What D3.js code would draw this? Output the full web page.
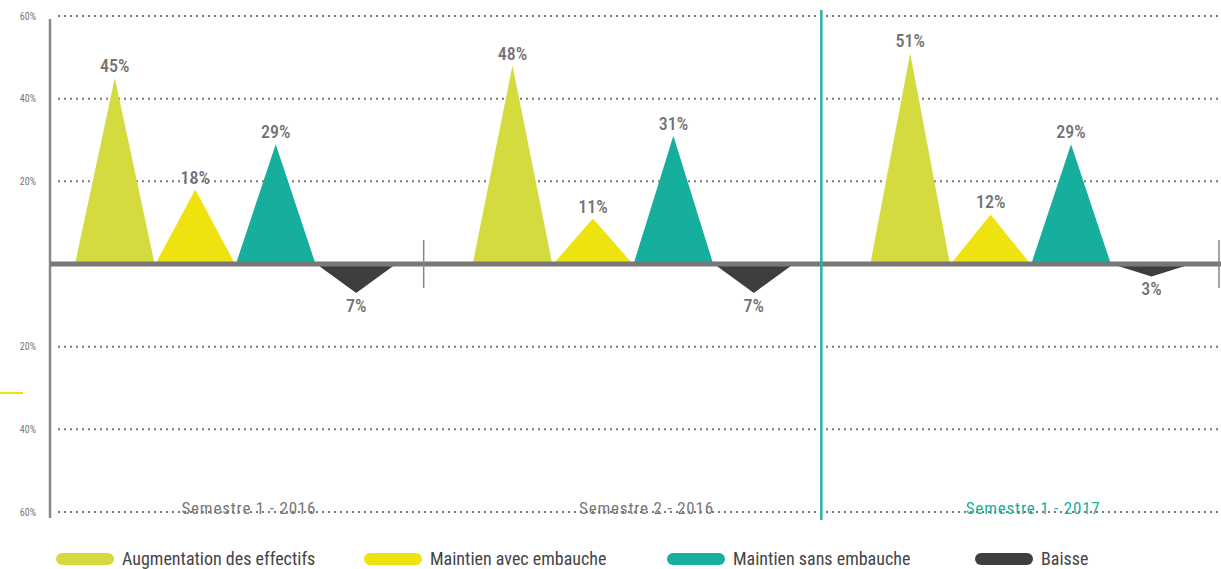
<!DOCTYPE html>
<html>
<head>
<meta charset="utf-8">
<script src="https://cdn.jsdelivr.net/npm/d3@7"></script>
<style>
  html, body { margin: 0; padding: 0; background: #fff; }
  svg { display: block; font-family: "Roboto Condensed", Roboto, "Liberation Sans Narrow", sans-serif; }
</style>
</head>
<body>
<svg id="chart" width="1221" height="569"></svg>
<script>
// ---- data ----
const groups = ["Semestre 1 - 2016", "Semestre 2 - 2016", "Semestre 1 - 2017"];
const seriesNames = ["Augmentation des effectifs", "Maintien avec embauche", "Maintien sans embauche", "Baisse"];
const augmentation = [45, 48, 51];
const maintienAvec = [18, 11, 12];
const maintienSans = [29, 31, 29];
const baisse = [-7, -7, -3];
const yTicks = [60, 40, 20, -20, -40, -60];
const colors = ["#d3db3f", "#efe30f", "#16ae9d", "#3e3e3e"];

const seriesValues = [augmentation, maintienAvec, maintienSans, baisse];

const svg = d3.select("#chart");
const W = 1221, H = 569;

const y = d3.scaleLinear().domain([-60, 60]).range([512, 16]);
const x0 = d3.scaleBand().domain(groups).range([26, 1219]);
const x1 = d3.scaleBand().domain(seriesNames).range([49, 370]).paddingInner(0.01);

// gridlines
svg.append("g").selectAll("line").data(yTicks).join("line")
  .attr("x1", 58).attr("x2", W)
  .attr("y1", d => y(d)).attr("y2", d => y(d))
  .attr("stroke", "#7a7a7a").attr("stroke-width", 2)
  .attr("stroke-dasharray", "2,4");

// y-axis labels
svg.append("g").selectAll("text").data(yTicks).join("text")
  .attr("x", 36).attr("y", d => y(d) + 3.5)
  .attr("text-anchor", "end")
  .attr("font-size", 10).attr("fill", "#777")
  .text(d => Math.abs(d) + "%");

// y-axis line
svg.append("line").attr("x1", 50).attr("x2", 50).attr("y1", 19).attr("y2", 518)
  .attr("stroke", "#888").attr("stroke-width", 2.5);

// small yellow marker at left
svg.append("line").attr("x1", 0).attr("x2", 23).attr("y1", 393).attr("y2", 393)
  .attr("stroke", colors[1]).attr("stroke-width", 2);

// triangles
const tri = [];
groups.forEach((g, gi) => {
  seriesNames.forEach((s, si) => {
    tri.push({ g, s, si, v: seriesValues[si][gi] });
  });
});

svg.append("g").selectAll("path").data(tri).join("path")
  .attr("d", d => {
    const xl = x0(d.g) + x1(d.s);
    const xr = xl + x1.bandwidth();
    const xm = (xl + xr) / 2;
    return `M${xl},${y(0)}L${xm},${y(d.v)}L${xr},${y(0)}Z`;
  })
  .attr("fill", d => colors[d.si]);

// value labels
svg.append("g").selectAll("text").data(tri).join("text")
  .attr("x", d => x0(d.g) + x1(d.s) + x1.bandwidth() / 2)
  .attr("y", d => d.v >= 0 ? y(d.v) - 6 : y(d.v) + 19)
  .attr("text-anchor", "middle")
  .attr("font-size", 18).attr("font-weight", 500).attr("fill", "#727272")
  .text(d => Math.abs(d.v) + "%");

// zero baseline
svg.append("line").attr("x1", 50).attr("x2", W).attr("y1", y(0)).attr("y2", y(0))
  .attr("stroke", "#787878").attr("stroke-width", 5);

// group separators
[x0(groups[1]), x0.range()[1]].forEach(xx => {
  svg.append("line").attr("x1", xx).attr("x2", xx).attr("y1", 240).attr("y2", 288)
    .attr("stroke", "#888").attr("stroke-width", 1.5);
});

// highlighted teal vertical line
svg.append("line").attr("x1", x0(groups[2])).attr("x2", x0(groups[2]))
  .attr("y1", 10).attr("y2", 520)
  .attr("stroke", "#2ab3a3").attr("stroke-width", 2.5);

// semester labels
const labelOffsets = [24, 24, 13];
svg.append("g").selectAll("text").data(groups).join("text")
  .attr("x", (d, i) => x0(d) + x0.bandwidth() / 2 + labelOffsets[i])
  .attr("y", 514)
  .attr("text-anchor", "middle")
  .attr("font-size", 17)
  .attr("letter-spacing", 0.8)
  .attr("fill", (d, i) => i === 2 ? "#16ae9d" : "#777")
  .text(d => d);

// legend
const legendX = [56, 364, 667, 975];
const lg = svg.append("g").selectAll("g").data(seriesNames).join("g")
  .attr("transform", (d, i) => `translate(${legendX[i]},559)`);
lg.append("rect").attr("x", 0).attr("y", -6).attr("width", 58).attr("height", 12)
  .attr("rx", 6).attr("fill", (d, i) => colors[i]);
lg.append("text").attr("x", 66).attr("y", 5.5)
  .attr("font-size", 18).attr("fill", "#444")
  .text(d => d);
</script>
</body>
</html>
